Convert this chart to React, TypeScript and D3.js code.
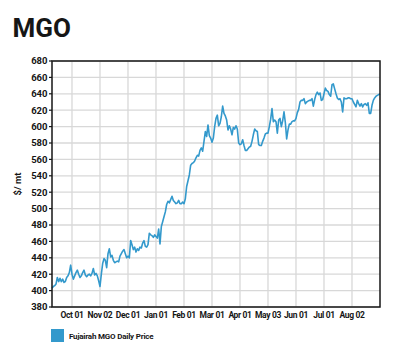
import React from "react";
import * as d3 from "d3";

const chartTitle = "MGO";
const yAxisTitle = "$/ mt";
const seriesName = "Fujairah MGO Daily Price";

// Daily prices ($/mt), one per trading day
const prices: number[] = [
  // Sep – Nov
  403, 405, 406, 408, 416, 411, 415, 411, 414, 410, 411, 416, 418, 422, 431, 420, 414, 418, 422, 425,
  420, 416, 418, 422, 425, 419, 417, 419, 420, 418, 421, 427, 419, 421, 418, 412, 405, 420, 433, 439,
  437, 428, 445, 451, 441, 443, 437, 434, 435, 436, 435, 442, 445, 448, 450,
  // Dec – Feb
  445, 440, 442, 440, 461, 456, 450, 453, 447, 451, 449, 453, 452, 458, 461, 454, 453, 456, 470, 468,
  467, 465, 468, 466, 464, 475, 457, 478, 484, 490, 496, 505, 509, 507, 511, 515, 510, 508, 506, 507,
  510, 506, 506, 508, 506, 512, 527, 534,
  // Feb – Apr
  541, 553, 555, 556, 558, 562, 565, 564, 571, 574, 570, 582, 594, 588, 602, 589, 586, 581, 586, 600,
  610, 614, 601, 604, 612, 625, 616, 613, 608, 596, 601, 597, 590, 599, 597, 601, 597, 580, 578, 579,
  584, 577, 571, 571, 573, 575, 576, 582, 590, 597, 595, 594, 578, 577,
  // Apr – Jun
  577, 582, 586, 591, 592, 592, 600, 609, 622, 606, 608, 606, 592, 608, 610, 600, 607, 618, 605, 585,
  596, 603, 603, 606, 607, 607, 610, 617, 621, 630, 632, 632, 634, 628, 630, 631, 632, 632, 634, 625,
  633, 639, 642, 639, 641, 632, 633, 640,
  // Jul – Aug
  647, 644, 643, 639, 637, 651, 652, 646, 640, 635, 633, 634, 630, 618, 635, 634, 634, 635, 635, 634,
  634, 630, 627, 624, 632, 628, 625, 628, 624, 627, 628, 626, 629, 616, 616, 626, 632, 635, 637, 638,
  639, 640,
];

const xTickIndex = [15, 36, 57, 78, 99, 120, 141, 162, 183, 204, 225];
const xTickLabels = ["Oct 01", "Nov 02", "Dec 01", "Jan 01", "Feb 01", "Mar 01", "Apr 01", "May 03", "Jun 01", "Jul 01", "Aug 02"];
const yTicks = [380, 400, 420, 440, 460, 480, 500, 520, 540, 560, 580, 600, 620, 640, 660, 680];

const LINE = "#3399cc";
const INK = "#161616";
const GRID = "#d8d8d8";
const FONT = "Roboto, 'Noto Sans', sans-serif";

export default function App() {
  const W = 394;
  const H = 357;
  const left = 52, right = 380, top = 61, bottom = 307;

  const x = d3.scaleLinear().domain([0, prices.length - 1]).range([left, right]);
  const y = d3.scaleLinear().domain([380, 680]).range([bottom, top]);
  const line = d3
    .line<number>()
    .x((_, i) => x(i))
    .y((d) => y(d));

  return (
    <svg
      width={W}
      height={H}
      style={{ position: "absolute", left: 0, top: 0, background: "#fff" }}
      fontFamily={FONT}
    >
      <rect x={0} y={0} width={W} height={H} fill="#fff" />
      <text x={12.5} y={37} fontSize={26} fontWeight={700} fill={INK} letterSpacing={0}>
        {chartTitle}
      </text>

      {/* grid */}
      {yTicks.map((t) => (
        <line key={"gy" + t} x1={left} x2={right} y1={y(t)} y2={y(t)} stroke={GRID} strokeWidth={1.3} />
      ))}
      {xTickIndex.map((t) => (
        <line key={"gx" + t} x1={x(t)} x2={x(t)} y1={top} y2={bottom} stroke={GRID} strokeWidth={1.3} />
      ))}

      {/* series */}
      <path d={line(prices) || ""} fill="none" stroke={LINE} strokeWidth={1.6} strokeLinejoin="round" />

      {/* frame */}
      <rect x={left} y={top} width={right - left} height={bottom - top} fill="none" stroke={INK} strokeWidth={1.5} />

      {/* y axis */}
      {yTicks.map((t) => (
        <g key={"yt" + t}>
          <line x1={left - 3} x2={left} y1={y(t)} y2={y(t)} stroke={INK} strokeWidth={1.2} />
          <text
            x={left - 4.5}
            y={y(t)}
            dy="0.35em"
            textAnchor="end"
            fontSize={9.5}
            fontWeight={700}
            fill={INK}
          >
            {t}
          </text>
        </g>
      ))}
      <text
        transform={`translate(21,${(top + bottom) / 2}) rotate(-90)`}
        textAnchor="middle"
        fontSize={9.5}
        fontWeight={700}
        fill={INK}
      >
        {yAxisTitle}
      </text>

      {/* x axis labels */}
      {xTickIndex.map((t, i) => (
        <text
          key={"xt" + t}
          x={x(t)}
          y={317.5}
          textAnchor="middle"
          fontSize={8.5}
          fontWeight={700}
          letterSpacing={-0.35}
          fill={INK}
        >
          {xTickLabels[i]}
        </text>
      ))}

      {/* legend */}
      <rect x={51} y={329} width={13} height={13} fill={LINE} />
      <text x={69} y={336} dy="0.35em" fontSize={8} fontWeight={700} fill={INK} letterSpacing={-0.2}>
        {seriesName}
      </text>
    </svg>
  );
}
